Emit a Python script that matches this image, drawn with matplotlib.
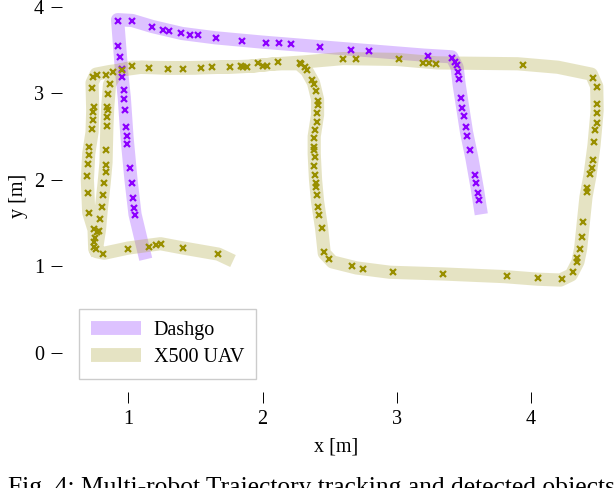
import matplotlib
matplotlib.use("Agg")
import matplotlib.pyplot as plt

# ---- Dashgo (ground robot) trajectory ----
dashgo_traj_x = [1.13, 1.05, 1.02, 0.99, 0.97, 0.95, 0.935, 0.92, 1.03, 1.18, 1.40, 1.65, 2.00, 2.40,
                 2.80, 3.20, 3.41, 3.45, 3.465, 3.49, 3.52, 3.56, 3.60, 3.63]
dashgo_traj_y = [1.08, 1.60, 2.00, 2.50, 2.95, 3.25, 3.55, 3.85, 3.84, 3.77, 3.69, 3.64, 3.59, 3.54,
                 3.49, 3.44, 3.42, 3.30, 3.10, 2.85, 2.55, 2.25, 1.90, 1.60]
dashgo_det_x = [1.050, 1.042, 1.035, 1.027, 1.013, 0.990, 0.990, 0.983, 0.975, 0.968, 0.968, 0.953,
                0.953, 0.938, 0.923, 0.923, 1.028, 1.177, 1.259, 1.303, 1.393, 1.460, 1.519, 1.653,
                1.847, 2.026, 2.123, 2.212, 2.428, 2.659, 2.793, 3.233, 3.412, 3.434, 3.449, 3.457,
                3.464, 3.479, 3.487, 3.502, 3.516, 3.524, 3.546, 3.583, 3.591, 3.606, 3.613]
dashgo_det_y = [1.59, 1.67, 1.79, 1.96, 2.13, 2.41, 2.51, 2.61, 2.80, 2.93, 3.04, 3.19,
                3.28, 3.42, 3.55, 3.83, 3.83, 3.77, 3.73, 3.72, 3.69, 3.67, 3.67, 3.64,
                3.60, 3.58, 3.58, 3.57, 3.53, 3.50, 3.49, 3.43, 3.41, 3.36, 3.33, 3.25,
                3.16, 2.95, 2.83, 2.74, 2.61, 2.51, 2.34, 2.06, 1.96, 1.85, 1.77]

# ---- X500 UAV trajectory ----
uav_traj_x = [1.78, 1.67, 1.41, 1.24, 1.00, 0.82, 0.76, 0.785, 0.80, 0.82, 0.834, 0.84, 0.847, 0.86,
              0.92, 1.03, 1.30, 1.60, 1.90, 2.10, 2.30, 2.60, 3.00, 3.30, 3.90, 4.20, 4.45, 4.49,
              4.493, 4.47, 4.44, 4.41, 4.39, 4.37, 4.35, 4.30, 4.22, 4.05, 3.80, 3.35, 2.95, 2.70,
              2.52, 2.46, 2.44, 2.41, 2.395, 2.385, 2.385, 2.41, 2.41, 2.38, 2.33, 2.27, 2.10, 1.90,
              1.50, 1.10, 0.86, 0.76, 0.73, 0.735, 0.73, 0.705, 0.695, 0.705, 0.745, 0.75, 0.77]
uav_traj_y = [1.06, 1.14, 1.21, 1.26, 1.21, 1.15, 1.17, 1.42, 1.68, 1.96, 2.20, 2.60, 2.85, 3.10,
              3.26, 3.30, 3.29, 3.30, 3.31, 3.34, 3.36, 3.40, 3.39, 3.35, 3.34, 3.30, 3.22, 3.08,
              2.80, 2.40, 2.05, 1.80, 1.50, 1.20, 1.05, 0.90, 0.84, 0.85, 0.88, 0.91, 0.93, 0.98,
              1.05, 1.15, 1.44, 1.75, 2.00, 2.30, 2.50, 2.75, 2.93, 3.12, 3.26, 3.34, 3.34, 3.31,
              3.29, 3.30, 3.25, 3.22, 3.12, 2.80, 2.55, 2.30, 2.00, 1.62, 1.42, 1.20, 1.14]
uav_det_x = [1.668, 1.408, 1.244, 1.206, 1.154, 0.998, 0.811,
             0.782, 0.789, 0.804, 0.811, 0.819, 0.834, 0.834, 0.834, 0.841, 0.841, 0.849, 0.841,
             0.849, 0.864,
             0.737, 0.767, 0.834, 0.886, 0.953, 1.028, 1.154, 1.296, 1.408, 1.542, 1.624, 1.758,
             1.840, 1.855, 1.884, 1.966, 2.003, 2.033, 2.115, 2.279, 2.600, 2.697, 3.017, 3.196,
             3.240, 3.293, 3.941,
             4.463, 4.493, 4.493, 4.493, 4.493, 4.478, 4.470, 4.463, 4.455, 4.440, 4.418, 4.418,
             4.388, 4.381, 4.366, 4.344, 4.344, 4.314, 4.232,
             4.053, 3.822, 3.345, 2.972, 2.748, 2.667, 2.495, 2.458,
             2.443, 2.421, 2.413, 2.406, 2.398, 2.398, 2.391, 2.383, 2.391, 2.383, 2.383, 2.383,
             2.391, 2.406, 2.406, 2.413, 2.413, 2.398, 2.383, 2.369, 2.331, 2.317, 2.287,
             0.729, 0.744, 0.737, 0.737, 0.729, 0.707, 0.707, 0.700, 0.692, 0.700, 0.707, 0.744,
             0.767, 0.752, 0.744, 0.744, 0.759]
uav_det_y = [1.14, 1.21, 1.26, 1.25, 1.22, 1.20, 1.14,
             1.41, 1.55, 1.68, 1.82, 1.96, 2.09, 2.17, 2.34, 2.62, 2.73, 2.80, 2.84,
             2.99, 3.11,
             3.19, 3.21, 3.21, 3.24, 3.27, 3.31, 3.29, 3.28, 3.28, 3.29, 3.30, 3.30,
             3.31, 3.30, 3.30, 3.35, 3.31, 3.31, 3.36, 3.35, 3.40, 3.40, 3.39, 3.35,
             3.35, 3.34, 3.33,
             3.18, 3.07, 2.87, 2.77, 2.65, 2.57, 2.43, 2.23, 2.14, 2.07, 1.90, 1.86,
             1.51, 1.34, 1.20, 1.09, 1.05, 0.93, 0.85,
             0.86, 0.89, 0.91, 0.93, 0.97, 1.00, 1.08, 1.16,
             1.44, 1.59, 1.68, 1.82, 1.92, 1.96, 2.05, 2.16, 2.26, 2.34, 2.38, 2.48,
             2.57, 2.67, 2.77, 2.86, 2.91, 3.02, 3.11, 3.15, 3.27, 3.30, 3.34,
             3.06, 2.84, 2.78, 2.69, 2.59, 2.38, 2.29, 2.18, 2.04, 1.85, 1.62, 1.43,
             1.39, 1.33, 1.28, 1.22, 1.20]

x_ticks = [1, 2, 3, 4]
y_ticks = [0, 1, 2, 3, 4]
series_labels = ["Dashgo", "X500 UAV"]
caption = "Fig. 4: Multi-robot Trajectory tracking and detected objects"

plt.rcParams['font.family'] = ['Liberation Serif', 'DejaVu Serif']
plt.rcParams['font.size'] = 14

fig = plt.figure(figsize=(6.16, 4.88), dpi=100)
ax = fig.add_axes([62/616, 1 - 392/488, (610 - 62)/616, 392/488])

band_purple = (145/255, 55/255, 255/255)
band_olive = (172/255, 165/255, 58/255)
mk_purple = '#8c00ff'
mk_olive = '#998f00'

ax.plot(dashgo_traj_x, dashgo_traj_y, color=band_purple, alpha=0.3, lw=9.5,
        solid_joinstyle='round', solid_capstyle='butt', label=series_labels[0], zorder=2)
ax.plot(uav_traj_x, uav_traj_y, color=band_olive, alpha=0.3, lw=9.5,
        solid_joinstyle='round', solid_capstyle='butt', label=series_labels[1], zorder=2)

ax.plot(dashgo_det_x, dashgo_det_y, ls='none', marker='x', ms=4.5, mew=1.6,
        color=mk_purple, zorder=3)
ax.plot(uav_det_x, uav_det_y, ls='none', marker='x', ms=4.5, mew=1.6,
        color=mk_olive, zorder=3)

ax.set_xlim(0.506, 4.589)
ax.set_ylim(-0.454, 4.077)
ax.set_xticks(x_ticks)
ax.set_yticks(y_ticks)
for s in ax.spines.values():
    s.set_visible(False)
ax.tick_params(direction='out', length=8, width=0.7, pad=5, labelsize=14.5)

ax.set_xlabel("x [m]", fontsize=14.5, labelpad=6)
ax.set_ylabel("y [m]", fontsize=14.5, labelpad=4)

leg = ax.legend(loc='lower left', bbox_to_anchor=(0.031, 0.033), borderaxespad=0,
                fancybox=False, frameon=True, edgecolor='#cccccc', framealpha=1,
                handlelength=2.5, handletextpad=0.6, labelspacing=0.4,
                borderpad=0.6, fontsize=14.5)
leg.get_frame().set_linewidth(1.0)
for h in leg.get_lines():
    h.set_linewidth(10)

fig.text(0.013, -0.012, caption, fontsize=18.4, ha='left', va='baseline')

fig.savefig("out.png", dpi=100)
